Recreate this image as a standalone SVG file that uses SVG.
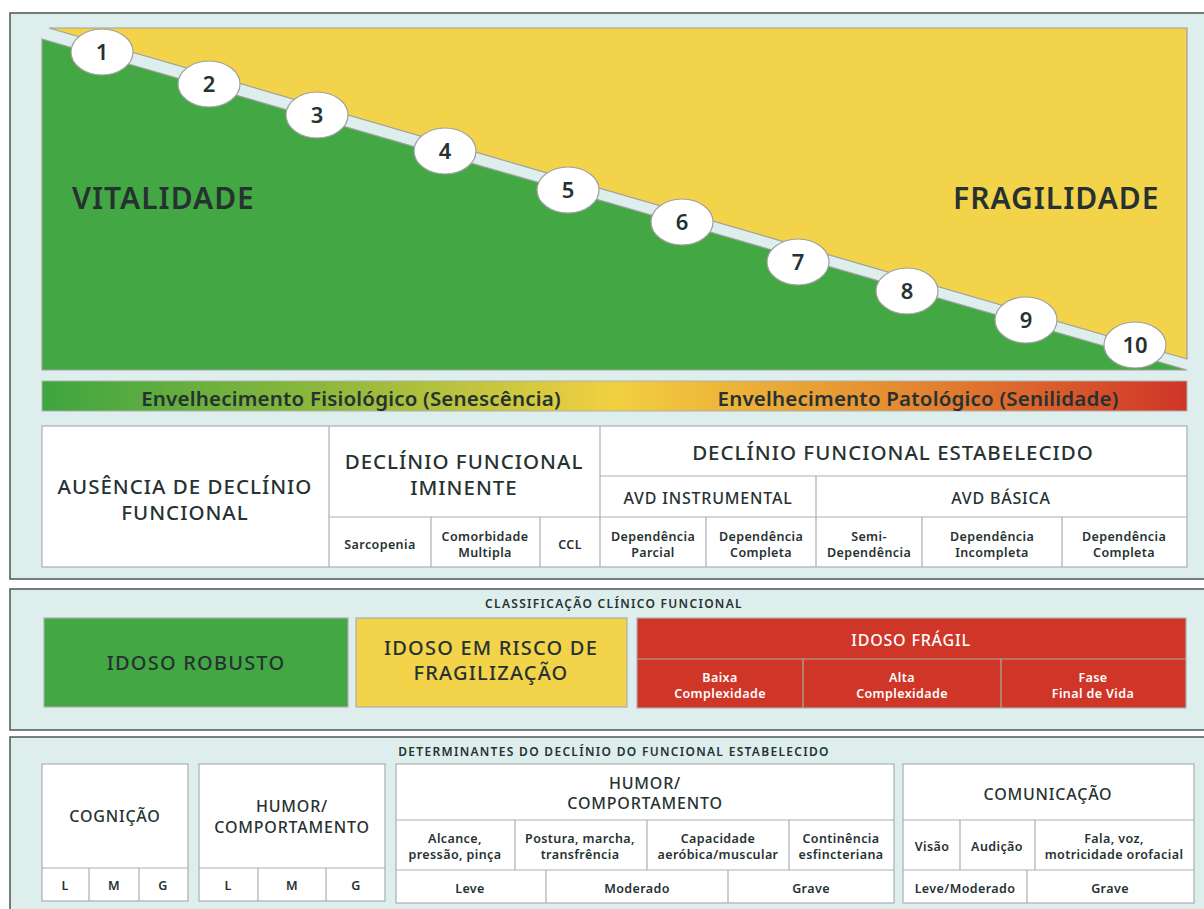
<svg xmlns="http://www.w3.org/2000/svg" width="1204" height="909" viewBox="0 0 1204 909">
<style>
.panel{fill:#deeeed;stroke:#4b5656;stroke-width:1.5}
.cell{fill:#ffffff;stroke:#a9b0b0;stroke-width:1.2}
.ln{stroke:#a9b0b0;stroke-width:1.2;fill:none}
.rln{stroke:#b0a8a8;stroke-width:1.2;fill:none}
text{font-family:"Noto Sans","Open Sans","Liberation Sans",sans-serif;fill:#263232;text-anchor:middle}
.num{font-size:22px;font-weight:600}
.big{font-size:30px;font-weight:600;text-anchor:start;letter-spacing:1px}
.bar{font-size:20.5px;font-weight:600;letter-spacing:0.2px}
.h1{font-size:20.5px;font-weight:500;letter-spacing:1px}
.h2{font-size:16px;font-weight:500;letter-spacing:0.8px}
.h3{font-size:20px;font-weight:500;letter-spacing:1.2px}
.sm{font-size:12.5px;font-weight:600;letter-spacing:0.4px}
.ttl{font-size:12px;font-weight:600;letter-spacing:1.3px}
.w{fill:#ffffff}
.oval{fill:#ffffff;stroke:#a0a0a0;stroke-width:1.2}
</style>
<defs>
<linearGradient id="grad" x1="0" y1="0" x2="1" y2="0">
<stop offset="0" stop-color="#3ea540"/>
<stop offset="0.25" stop-color="#8fb83c"/>
<stop offset="0.5" stop-color="#f2d040"/>
<stop offset="0.75" stop-color="#e58a30"/>
<stop offset="1" stop-color="#cf3527"/>
</linearGradient>
</defs>

<!-- Panel 1 -->
<g id="panel1">
<rect class="panel" x="10" y="13" width="1210" height="566"/>
<polygon points="49,28 1187,28 1187,359" fill="#f3d34a" stroke="#a0a0a0" stroke-width="1.2"/>
<polygon points="42,39 1187,370 42,370" fill="#43a843" stroke="#a0a0a0" stroke-width="1.2"/>
<text class="big" x="72" y="209">VITALIDADE</text>
<text class="big" x="953" y="209">FRAGILIDADE</text>
</g>

<g id="steps">
<g id="s1"><ellipse class="oval" cx="102" cy="52" rx="31" ry="23"/><text class="num" x="102" y="60">1</text></g>
<g id="s2"><ellipse class="oval" cx="209" cy="84" rx="31" ry="23"/><text class="num" x="209" y="92">2</text></g>
<g id="s3"><ellipse class="oval" cx="317" cy="115" rx="31" ry="23"/><text class="num" x="317" y="123">3</text></g>
<g id="s4"><ellipse class="oval" cx="445" cy="151" rx="31" ry="23"/><text class="num" x="445" y="159">4</text></g>
<g id="s5"><ellipse class="oval" cx="568" cy="190" rx="31" ry="23"/><text class="num" x="568" y="198">5</text></g>
<g id="s6"><ellipse class="oval" cx="682" cy="222" rx="31" ry="23"/><text class="num" x="682" y="230">6</text></g>
<g id="s7"><ellipse class="oval" cx="798" cy="262" rx="31" ry="23"/><text class="num" x="798" y="270">7</text></g>
<g id="s8"><ellipse class="oval" cx="907" cy="291" rx="31" ry="23"/><text class="num" x="907" y="299">8</text></g>
<g id="s9"><ellipse class="oval" cx="1026" cy="320" rx="31" ry="23"/><text class="num" x="1026" y="328">9</text></g>
<g id="s10"><ellipse class="oval" cx="1135" cy="345" rx="31" ry="23"/><text class="num" x="1135" y="353">10</text></g>
</g>

<g id="gradbar">
<rect x="42" y="381" width="1145" height="30" fill="url(#grad)" stroke="#a9b0b0" stroke-width="1"/>
<text class="bar" x="351" y="406">Envelhecimento Fisiológico (Senescência)</text>
<text class="bar" x="918" y="406">Envelhecimento Patológico (Senilidade)</text>
</g>

<g id="table1">
<rect class="cell" x="42" y="426" width="1145" height="141"/>
<path class="ln" d="M329,426V567 M600,426V567 M329,517H1187 M600,476H1187 M816,476V567 M431,517V567 M540,517V567 M706,517V567 M922,517V567 M1062,517V567"/>
<text class="h1" x="185" y="494">AUSÊNCIA DE DECLÍNIO</text>
<text class="h1" x="185" y="520">FUNCIONAL</text>
<text class="h1" x="464" y="469">DECLÍNIO FUNCIONAL</text>
<text class="h1" x="464" y="495">IMINENTE</text>
<text class="h1" x="893" y="460">DECLÍNIO FUNCIONAL ESTABELECIDO</text>
<text class="h2" x="708" y="504">AVD INSTRUMENTAL</text>
<text class="h2" x="1001" y="504">AVD BÁSICA</text>
<text class="sm" x="380" y="549">Sarcopenia</text>
<text class="sm" x="485" y="541">Comorbidade</text>
<text class="sm" x="485" y="557">Multipla</text>
<text class="sm" x="570" y="549">CCL</text>
<text class="sm" x="653" y="541">Dependência</text>
<text class="sm" x="653" y="557">Parcial</text>
<text class="sm" x="761" y="541">Dependência</text>
<text class="sm" x="761" y="557">Completa</text>
<text class="sm" x="869" y="541">Semi-</text>
<text class="sm" x="869" y="557">Dependência</text>
<text class="sm" x="992" y="541">Dependência</text>
<text class="sm" x="992" y="557">Incompleta</text>
<text class="sm" x="1124" y="541">Dependência</text>
<text class="sm" x="1124" y="557">Completa</text>
</g>

<!-- Panel 2 -->
<g id="panel2">
<rect class="panel" x="10" y="589" width="1210" height="141"/>
<text class="ttl" x="614" y="608">CLASSIFICAÇÃO CLÍNICO FUNCIONAL</text>
</g>
<g id="robusto">
<rect x="44" y="618" width="304" height="89" fill="#43a843" stroke="#a9b0b0" stroke-width="1.2"/>
<text class="h3" x="196" y="670">IDOSO ROBUSTO</text>
</g>
<g id="risco">
<rect x="356" y="618" width="271" height="89" fill="#f3d34a" stroke="#a9b0b0" stroke-width="1.2"/>
<text class="h3" x="491" y="655">IDOSO EM RISCO DE</text>
<text class="h3" x="491" y="680">FRAGILIZAÇÃO</text>
</g>
<g id="fragil">
<rect x="637" y="618" width="549" height="90" fill="#cf3628" stroke="#a9b0b0" stroke-width="1.2"/>
<path class="rln" d="M637,659H1186 M803,659V708 M1001,659V708"/>
<text class="w h2" x="911" y="646">IDOSO FRÁGIL</text>
<text class="w sm" x="720" y="682">Baixa</text>
<text class="w sm" x="720" y="698">Complexidade</text>
<text class="w sm" x="902" y="682">Alta</text>
<text class="w sm" x="902" y="698">Complexidade</text>
<text class="w sm" x="1093" y="682">Fase</text>
<text class="w sm" x="1093" y="698">Final de Vida</text>
</g>

<!-- Panel 3 -->
<g id="panel3">
<rect class="panel" x="10" y="737" width="1210" height="190"/>
<text class="ttl" x="614" y="756">DETERMINANTES DO DECLÍNIO DO FUNCIONAL ESTABELECIDO</text>
</g>
<g id="cognicao">
<rect class="cell" x="42" y="764" width="146" height="137"/>
<path class="ln" d="M42,868H188 M89,868V901 M139,868V901"/>
<text class="h2" x="115" y="822">COGNIÇÃO</text>
<text class="sm" x="65" y="890">L</text>
<text class="sm" x="114" y="890">M</text>
<text class="sm" x="163" y="890">G</text>
</g>
<g id="humor1">
<rect class="cell" x="199" y="764" width="186" height="137"/>
<path class="ln" d="M199,868H385 M258,868V901 M326,868V901"/>
<text class="h2" x="292" y="812">HUMOR/</text>
<text class="h2" x="292" y="833">COMPORTAMENTO</text>
<text class="sm" x="228" y="890">L</text>
<text class="sm" x="292" y="890">M</text>
<text class="sm" x="356" y="890">G</text>
</g>
<g id="humor2">
<rect class="cell" x="396" y="764" width="498" height="139"/>
<path class="ln" d="M396,820H894 M396,870H894 M515,820V870 M647,820V870 M789,820V870 M546,870V903 M728,870V903"/>
<text class="h2" x="645" y="789">HUMOR/</text>
<text class="h2" x="645" y="809">COMPORTAMENTO</text>
<text class="sm" x="455" y="843">Alcance,</text>
<text class="sm" x="455" y="859">pressão, pinça</text>
<text class="sm" x="580" y="843">Postura, marcha,</text>
<text class="sm" x="580" y="859">transfrência</text>
<text class="sm" x="718" y="843">Capacidade</text>
<text class="sm" x="718" y="859">aeróbica/muscular</text>
<text class="sm" x="841" y="843">Continência</text>
<text class="sm" x="841" y="859">esfincteriana</text>
<text class="sm" x="470" y="893">Leve</text>
<text class="sm" x="637" y="893">Moderado</text>
<text class="sm" x="811" y="893">Grave</text>
</g>
<g id="comunicacao">
<rect class="cell" x="903" y="764" width="291" height="139"/>
<path class="ln" d="M903,820H1194 M903,870H1194 M960,820V870 M1035,820V870 M1027,870V903"/>
<text class="h2" x="1048" y="800">COMUNICAÇÃO</text>
<text class="sm" x="932" y="851">Visão</text>
<text class="sm" x="997" y="851">Audição</text>
<text class="sm" x="1114" y="843">Fala, voz,</text>
<text class="sm" x="1114" y="859">motricidade orofacial</text>
<text class="sm" x="965" y="893">Leve/Moderado</text>
<text class="sm" x="1110" y="893">Grave</text>
</g>
<g id="connectors"></g>
</svg>
